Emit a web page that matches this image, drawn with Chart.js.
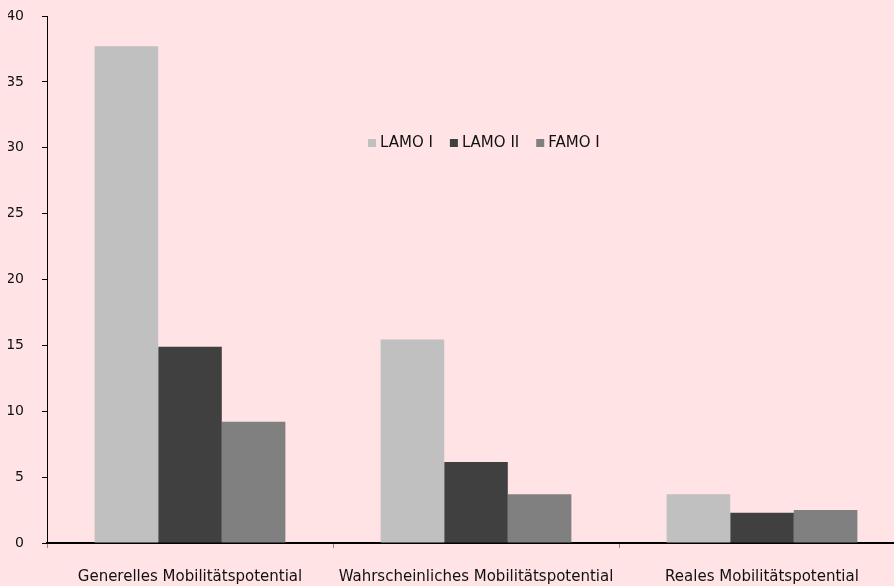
<!DOCTYPE html>
<html>
<head>
<meta charset="utf-8">
<script src="https://cdn.jsdelivr.net/npm/chart.js@4/dist/chart.umd.min.js"></script>
<style>
    html, body { margin: 0; padding: 0; background: #ffe3e5; overflow: hidden; }
    #wrap { width: 894px; height: 586px; overflow: hidden; }
</style>
</head>
<body>
<div id="wrap"><canvas id="mobChart" width="910" height="586"></canvas></div>
<script>
// categories and series
const categories = ['Generelles Mobilitätspotential', 'Wahrscheinliches Mobilitätspotential', 'Reales Mobilitätspotential'];
const lamo1 = [37.7, 15.45, 3.7];
const lamo2 = [14.9, 6.15, 2.3];
const famo1 = [9.2, 3.7, 2.5];
const seriesNames = ['LAMO I', 'LAMO II', 'FAMO I'];
const seriesColors = ['#c0c0c0', '#404040', '#808080'];

const FONT = "'DejaVu Sans', sans-serif";

// legend drawn inside the plot area, like the original
const innerLegend = {
    id: 'innerLegend',
    afterDraw(chart) {
        const ctx = chart.ctx;
        ctx.save();
        ctx.font = '15px ' + FONT;
        ctx.textBaseline = 'middle';
        let x = 368;
        const y = 143;
        chart.data.datasets.forEach(ds => {
            ctx.fillStyle = ds.backgroundColor;
            ctx.fillRect(x, y - 4, 8, 8);
            ctx.fillStyle = '#111';
            ctx.fillText(ds.label, x + 12, y);
            x += 12 + ctx.measureText(ds.label).width + 17;
        });
        ctx.restore();
    }
};

const ctx = document.getElementById('mobChart').getContext('2d');
new Chart(ctx, {
    type: 'bar',
    data: {
        labels: categories,
        datasets: [lamo1, lamo2, famo1].map((d, i) => ({
            label: seriesNames[i],
            data: d,
            backgroundColor: seriesColors[i],
            borderWidth: 0,
            categoryPercentage: 0.667,
            barPercentage: 1.0
        }))
    },
    options: {
        responsive: false,
        animation: false,
        layout: { padding: { top: 16, left: 8, right: 5, bottom: 0 } },
        plugins: {
            legend: { display: false },
            tooltip: { enabled: false }
        },
        scales: {
            x: {
                afterFit(scale) { scale.height = 43; scale.paddingLeft = 0; scale.paddingRight = 0; },
                grid: { drawOnChartArea: false, tickLength: 5, color: '#888', offset: true },
                border: { color: '#000', width: 2 },
                ticks: { color: '#111', padding: 20, font: { family: FONT, size: 15 }, maxRotation: 0, autoSkip: false }
            },
            y: {
                min: 0,
                max: 40,
                afterFit(scale) { scale.width = 39; scale.paddingTop = 0; scale.paddingBottom = 0; },
                grid: { drawOnChartArea: false, tickLength: 5, color: '#000' },
                border: { color: '#000', width: 1 },
                ticks: { stepSize: 5, color: '#111', padding: 18, font: { family: FONT, size: 14 } }
            }
        }
    },
    plugins: [innerLegend]
});
</script>
</body>
</html>
